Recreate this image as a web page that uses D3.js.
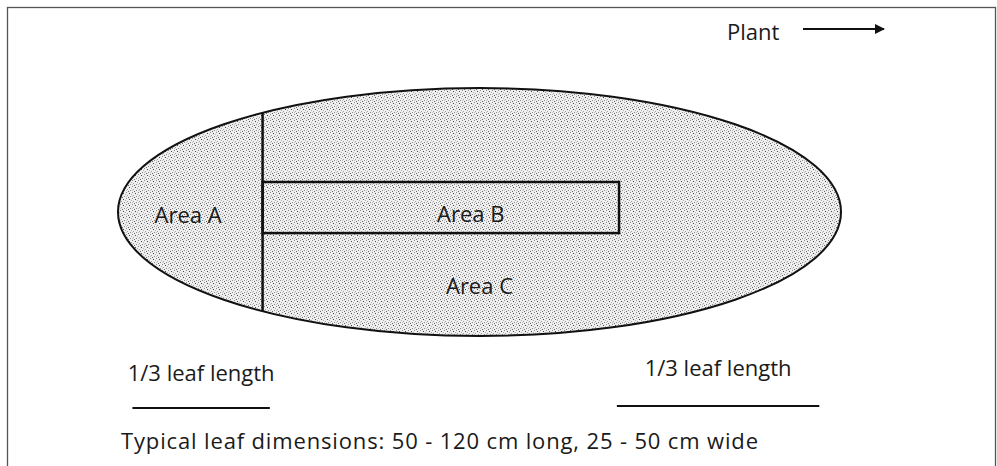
<!DOCTYPE html>
<html>
<head>
<meta charset="utf-8">
<script src="https://cdn.jsdelivr.net/npm/d3@7"></script>
<style>
  body { margin: 0; background: #fff; }
  text { font-family: "Open Sans", sans-serif; fill: #1a1a1a; }
</style>
</head>
<body>
<svg id="leaf"></svg>
<script>
// leaf coordinates: x = fraction of leaf length from tip (0) to base (1), y = fraction of width (-0.5..0.5)
const zoneLabels = ["Area A", "Area B", "Area C"];
const zoneLabelX = [0.097, 0.488, 0.5];
const zoneLabelY = [0.045, 0.04, 0.33];
const baseCut = 0.2;          // Area A boundary
const stripeEnd = 0.693;      // end of Area B stripe
const stripeTop = -0.121;
const stripeBottom = 0.085;
const thirdLabel = "1/3 leaf length";
const thirdStart = [0.02, 0.69];
const thirdEnd = [0.21, 0.97];
const thirdLabelY = [381, 376];
const thirdLineY = [408, 406];
const caption = "Typical leaf dimensions: 50 - 120 cm long, 25 - 50 cm wide";
const plantLabel = "Plant";

const width = 997;
const height = 466;

const svg = d3.select('#leaf')
  .attr('width', width)
  .attr('height', height);

// scales from leaf units to pixels
const x = d3.scaleLinear().domain([0, 1]).range([118, 841]);
const y = d3.scaleLinear().domain([-0.5, 0.5]).range([88, 336]);
const cx = x(0.5), cy = y(0);
const rx = (x(1) - x(0)) / 2, ry = (y(0.5) - y(-0.5)) / 2;

// stipple pattern
const defs = svg.append('defs');
const pat = defs.append('pattern')
  .attr('id', 'stipple')
  .attr('width', 6)
  .attr('height', 6)
  .attr('patternUnits', 'userSpaceOnUse');
pat.append('rect').attr('width', 6).attr('height', 6).attr('fill', '#efefef');
[[0, 0, '#8a8a8a'], [3, 1, '#444'], [1, 3, '#a0a0a0'], [4, 4, '#8a8a8a'], [2, 5, '#666'], [5, 2, '#b0b0b0'], [0, 4, '#c4c4c4']]
  .forEach(d => pat.append('rect').attr('x', d[0]).attr('y', d[1]).attr('width', 1).attr('height', 1).attr('fill', d[2]));

// outer frame
svg.append('rect')
  .attr('x', 7.5).attr('y', 7.5)
  .attr('width', 988).attr('height', 480)
  .attr('fill', 'none')
  .attr('stroke', '#555')
  .attr('stroke-width', 1.3);

// leaf
svg.append('ellipse')
  .attr('cx', cx).attr('cy', cy)
  .attr('rx', rx).attr('ry', ry)
  .attr('fill', 'url(#stipple)')
  .attr('stroke', '#111')
  .attr('stroke-width', 2);

// Area A boundary: chord of the ellipse
const t = (x(baseCut) - cx) / rx;
const half = ry * Math.sqrt(1 - t * t);
svg.append('line')
  .attr('x1', x(baseCut)).attr('x2', x(baseCut))
  .attr('y1', cy - half).attr('y2', cy + half)
  .attr('stroke', '#111').attr('stroke-width', 2.5);

// Area B stripe
svg.append('rect')
  .attr('x', x(baseCut))
  .attr('y', y(stripeTop))
  .attr('width', x(stripeEnd) - x(baseCut))
  .attr('height', y(stripeBottom) - y(stripeTop))
  .attr('fill', 'none')
  .attr('stroke', '#111')
  .attr('stroke-width', 2.5);

// zone labels
svg.selectAll('.zone')
  .data(zoneLabels)
  .enter().append('text')
  .attr('class', 'zone')
  .attr('x', (d, i) => x(zoneLabelX[i]))
  .attr('y', (d, i) => y(zoneLabelY[i]))
  .attr('text-anchor', 'middle')
  .style('font-size', '22px')
  .text(d => d);

// 1/3 leaf length markers
thirdStart.forEach((s, i) => {
  svg.append('text')
    .attr('x', (x(s) + x(thirdEnd[i])) / 2)
    .attr('y', thirdLabelY[i])
    .attr('text-anchor', 'middle')
    .style('font-size', '22px')
    .text(thirdLabel);
  svg.append('line')
    .attr('x1', x(s)).attr('x2', x(thirdEnd[i]))
    .attr('y1', thirdLineY[i]).attr('y2', thirdLineY[i])
    .attr('stroke', '#111').attr('stroke-width', 2);
});

// caption
svg.append('text')
  .attr('x', 121).attr('y', 449)
  .attr('textLength', 637)
  .attr('lengthAdjust', 'spacing')
  .style('font-size', '22px')
  .text(caption);

// plant direction arrow
defs.append('marker')
  .attr('id', 'head')
  .attr('viewBox', '0 0 10 10')
  .attr('refX', 9).attr('refY', 5)
  .attr('markerWidth', 10).attr('markerHeight', 10)
  .attr('markerUnits', 'userSpaceOnUse')
  .attr('orient', 'auto')
  .append('path').attr('d', 'M0,0 L10,5 L0,10 z').attr('fill', '#111');

svg.append('text')
  .attr('x', 727).attr('y', 40)
  .style('font-size', '22px')
  .text(plantLabel);

svg.append('line')
  .attr('x1', 803).attr('x2', 884)
  .attr('y1', 29).attr('y2', 29)
  .attr('stroke', '#111').attr('stroke-width', 2)
  .attr('marker-end', 'url(#head)');
</script>
</body>
</html>
